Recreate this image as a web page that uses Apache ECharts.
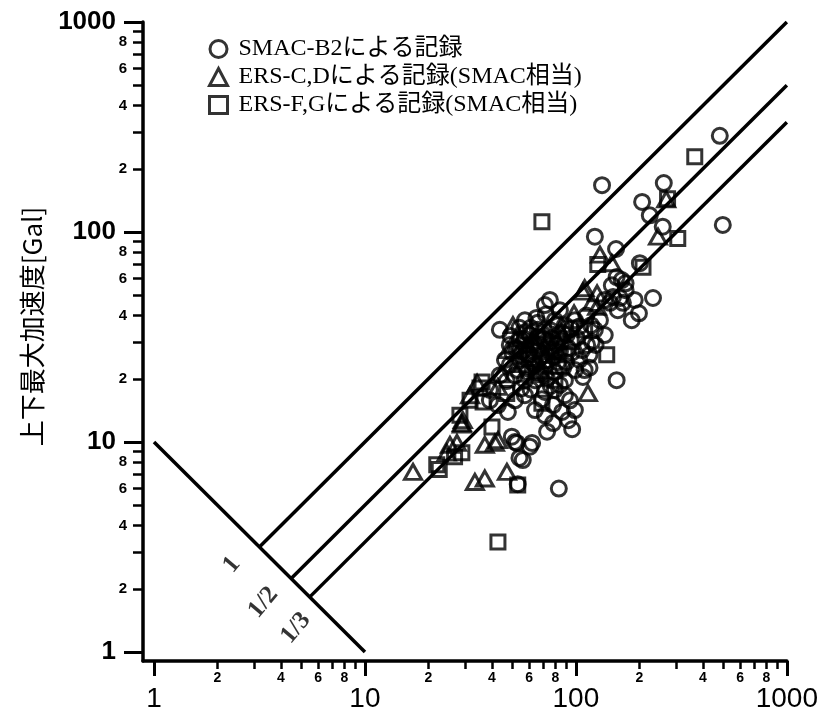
<!DOCTYPE html>
<html><head><meta charset="utf-8">
<script src="https://cdn.jsdelivr.net/npm/echarts@6/dist/echarts.min.js"></script>
<style>html,body{margin:0;padding:0;background:#fff}#c{width:821px;height:720px}</style>
</head><body><div id="c"></div><script>
// ---- data ----
const seriesNames = ['SMAC-B2による記録', 'ERS-C,Dによる記録(SMAC相当)', 'ERS-F,Gによる記録(SMAC相当)'];
const yTitle = '上下最大加速度[Gal]';

const smacB2 = [
 [481,287],[133,167],[261,171],[206,139],[224,120],[497,108],[258,106],[123,95],[155,83],[201,71],
 [156,61],[165,59],[172,57],[150,49],[162,48.5],[167,46],[145,46],[232,48.5],[199,41],[184,38],
 [82,36],[65,39],[110,22],[116,22.6],[156,19.7],[83,6.0],[56,8.2],[60.5,9.5],[54,8.4],[51.4,10],
 [62,9.9],[73,11.2],[78,12.3],[96,11.5],[92,12.7],[86,13.9],[78,15],[53,6.3],
 [90.6,32.3],[101,31.3],[113,29],[119,30],[107,27.4],[96,26.7],[123,34.2],
 [54.3,30.6],[60.5,26],[67.5,29],[73.7,24.6],[79.5,21.5],[84,18.7],[71.3,17.3],[64,19.7],[57.3,16.7],[51.4,20.8],
 [46.1,24.6],[42.7,15],[47.6,13.9],[49.7,10.6],[52.5,9.9],[93.7,15.8],[98.9,14.2],[88.7,16.7],[71.3,13.4],[79.5,38],
 [66,34.2],[48.6,23.3],[39.1,17.7],[130,38],[137,47.5],[148,55.7],[172,52.8],[158,42.4],[190,47.5],[108,20.4],
 [43.6,34.2],[48.6,29],[57.3,38],[60.5,32.3],[71.3,44.9],[75.3,47.5],[84,42.4],[99,38],[88.7,36],[54.3,24.6],
 [64,23.3],[71.3,20.8],[79.5,17.7],[88.7,19.7],[57.3,19.7],[43.6,20.8],[39.1,15.8],[51.4,15.8],[64,14.2],[99,22],
 [104,24.6],[116,26],[124,29],[137,32.3],[77,31.3],[66,27.4],[59.2,21.5],
 [56,27],[62,24],[68,25.5],[70,31],[74,28],[76,34],[80,27],[85,30],[58,22.5],[63,29.5],
 [50,26.5],[53,22],[67,21],[73,20],[82,24],[87,22.5],[92,28],[61,17.8],[69,16],[76,18.5],
 [47,19.5],[55,18],[83,32.5],[95,34.5],[104,35.5],[112,40],[118,36],[66,37],[72,40.5],[58,33.5],
 [52,28],[57,31],[63,27],[69,33],[75,30],[81,29],[87,33],[61,35],[66,31.5],[72,23],
 [78,25.5],[84,27],[90,24],[59,26],[54,35],[49,32]
];
const ersCD = [
 [268,143],[245,95],[130,78],[148,71],[126,51],[110,54],[119,46],[126,44],[108,52],[50.3,36],[114,17.1],
 [42.7,18.3],[29.1,12.7],[16.9,7.2],[25.3,9.7],[24.4,8.9],[28.8,12.1],[37,9.7],[41.3,9.9],[33.2,6.45],[37,6.7],
 [47.1,7.2],[34,19.1],[58.6,29],[67.5,22],[84,34.2],[47.6,27.4],[31.5,16.7],[42.7,10.2],[28.8,12.3],[27.3,9.9],
 [62,30.5],[72,26],[55,23.5],[98,41],[44,21],[53,32.5],[66,24.5]
];
const ersFG = [
 [366,228],[272,144],[304,93],[127,70],[208,68],[69,112],[140,26],[35.9,19.3],[36.3,15.5],[35.1,18.1],
 [21.9,7.8],[22.5,7.4],[26.6,8.5],[28.8,8.9],[53,6.24],[42.7,3.34],[69,15.3],[40,11.8],[54.3,27.4],[71.3,30.6],
 [88.7,26],[79.5,19.7],[110,34.2],[31.5,15.8],[28.2,13.4],[60,25],[47,17],[95,30],[65,21.5],
 [58,29],[76,27.5],[83,23]
];
const ratioLine1 = [[3.16,3.16],[1000,1000]];
const ratioLine2 = [[4.47,2.24],[1000,500]];
const ratioLine3 = [[5.48,1.83],[1000,333]];
const crossLine = [[1,10],[10,1]];
const ratioLabelNames = ['1', '1/2', '1/3'];
const ratioLabelPos = [[2.34,2.6],[3.3,1.72],[4.7,1.3]];

const majorTicks = [1,10,100,1000];
const minorTicks = [2,3,4,5,6,7,8,9,20,30,40,50,60,70,80,90,200,300,400,500,600,700,800,900];
const minorLabels = [2,4,6,8,20,40,60,80,200,400,600,800];

// ---- chart ----
const X_MIN = 0.887, Y_MIN = 0.906, MAXV = 1000;
const lg = v => Math.log10(v);
const fmtMajor = v => String(Math.round(Math.pow(10, v)));
const fmtMinor = v => { const n = Math.round(Math.pow(10, v)); return String(Math.round(n / Math.pow(10, Math.floor(Math.log10(n) + 1e-9)))); };
const axisBase = { splitLine:{show:false}, minorTick:{show:false}, minorSplitLine:{show:false} };

const chart = echarts.init(document.getElementById('c'), null, {renderer:'canvas'});
const markerStyle = { color:'rgba(0,0,0,0)', borderColor:'#000', borderWidth:3 };
const lineStyle = { color:'#000', width:3.5 };

chart.setOption({
  animation:false,
  backgroundColor:'#fff',
  grid:{ left:143, right:34, top:22, bottom:59, containLabel:false },
  legend:{
    orient:'vertical', left:203, top:32, itemWidth:18, itemHeight:17, itemGap:4,
    data: seriesNames,
    itemStyle:{ borderWidth:3, borderColor:'#000', color:'rgba(0,0,0,0)' },
    textStyle:{ fontSize:24, color:'#000', fontFamily:"'Liberation Serif','Noto Sans CJK JP',serif", padding:[0,0,0,6] }
  },
  xAxis:[
    Object.assign({ type:'log', logBase:10, min:X_MIN, max:MAXV, position:'bottom',
      axisLine:{show:true, onZero:false, lineStyle:{color:'#000', width:3.5}},
      axisTick:{show:false}, axisLabel:{show:false} }, axisBase),
    Object.assign({ type:'value', min:lg(X_MIN), max:3, position:'bottom',
      axisLine:{show:false, onZero:false},
      axisTick:{show:true, customValues: majorTicks.map(lg), length:15, lineStyle:{color:'#000', width:3}},
      axisLabel:{customValues: majorTicks.map(lg), formatter: fmtMajor, margin:24, fontSize:28, color:'#000',
        fontFamily:"'Liberation Sans Narrow','Liberation Sans',sans-serif"} }, axisBase),
    Object.assign({ type:'value', min:lg(X_MIN), max:3, position:'bottom',
      axisLine:{show:false, onZero:false},
      axisTick:{show:true, customValues: minorTicks.map(lg), length:8, lineStyle:{color:'#000', width:2.5}},
      axisLabel:{customValues: minorLabels.map(lg), formatter: fmtMinor, margin:10, fontSize:14, fontWeight:'bold', color:'#000',
        fontFamily:"'Liberation Sans',sans-serif"} }, axisBase)
  ],
  yAxis:[
    Object.assign({ type:'log', logBase:10, min:Y_MIN, max:MAXV, position:'left',
      axisLine:{show:true, onZero:false, lineStyle:{color:'#000', width:3.5}},
      axisTick:{show:false}, axisLabel:{show:false},
      name: yTitle, nameLocation:'middle', nameGap:98, nameRotate:90,
      nameTextStyle:{ fontSize:26, color:'#000', fontFamily:"'Noto Sans CJK JP',sans-serif", padding:[0,0,0,30] } }, axisBase),
    Object.assign({ type:'value', min:lg(Y_MIN), max:3, position:'left',
      axisLine:{show:false, onZero:false},
      axisTick:{show:true, customValues: majorTicks.map(lg), length:19, lineStyle:{color:'#000', width:3}},
      axisLabel:{customValues: majorTicks.map(lg), formatter: fmtMajor, margin:27, fontSize:26, fontWeight:'bold', color:'#000',
        fontFamily:"'Liberation Sans',sans-serif"} }, axisBase),
    Object.assign({ type:'value', min:lg(Y_MIN), max:3, position:'left',
      axisLine:{show:false, onZero:false},
      axisTick:{show:true, customValues: minorTicks.map(lg), length:10, lineStyle:{color:'#000', width:2.5}},
      axisLabel:{customValues: minorLabels.map(lg), formatter: fmtMinor, margin:16, fontSize:15, fontWeight:'bold', color:'#000',
        fontFamily:"'Liberation Sans',sans-serif"} }, axisBase)
  ],
  series:[
    { type:'line', data: ratioLine1, symbol:'none', lineStyle, silent:true, z:1 },
    { type:'line', data: ratioLine2, symbol:'none', lineStyle, silent:true, z:1 },
    { type:'line', data: ratioLine3, symbol:'none', lineStyle, silent:true, z:1 },
    { type:'line', data: crossLine, symbol:'none', lineStyle, silent:true, z:1 },
    { type:'scatter', silent:true, symbolSize:0, z:1,
      data: ratioLabelNames.map((n,i) => ({ name:n, value: ratioLabelPos[i] })),
      label:{ show:true, formatter:'{b}', rotate:50, fontSize:25, fontWeight:'bold', color:'#000',
        fontFamily:"'Liberation Serif',serif", position:'inside' } },
    { name: seriesNames[0], type:'scatter', data: smacB2, symbol:'circle', symbolSize:15, itemStyle: markerStyle, z:3 },
    { name: seriesNames[1], type:'scatter', data: ersCD, symbol:'triangle', symbolSize:[17,15], itemStyle: markerStyle, z:3 },
    { name: seriesNames[2], type:'scatter', data: ersFG, symbol:'rect', symbolSize:14, itemStyle: markerStyle, z:3 }
  ]
});
</script></body></html>
